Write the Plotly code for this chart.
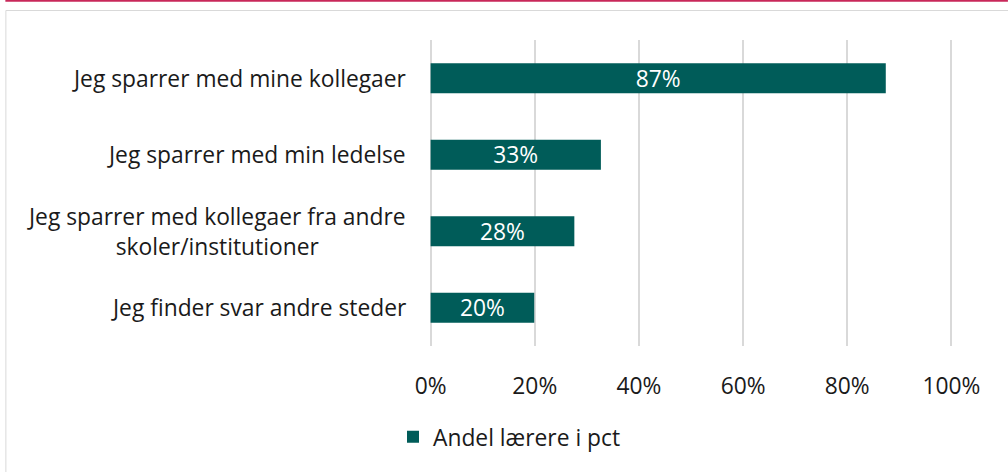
import plotly.graph_objects as go

categories = [
    "Jeg sparrer med mine kollegaer",
    "Jeg sparrer med min ledelse",
    "Jeg sparrer med kollegaer fra andre<br>skoler/institutioner",
    "Jeg finder svar andre steder",
]
values = [0.874, 0.327, 0.276, 0.199]
value_labels = ["87%", "33%", "28%", "20%"]
series_name = "Andel lærere i pct"
tick_vals = [0, 0.2, 0.4, 0.6, 0.8, 1.0]
tick_text = ["0%", "20%", "40%", "60%", "80%", "100%"]

W, H = 1008, 472
X0, X100 = 431, 951.5
E = 0.005
L = X0 - E * (X100 - X0)
R = X100 + E * (X100 - X0)
T, B = 40, 346
FONT = "Open Sans"
FS = 22.8
BAR = "#005C59"
TXT = "#1a1a1a"

def px(x):
    return (x - L) / (R - L)

def py(y):
    return (B - y) / (B - T)

fig = go.Figure()
fig.add_trace(go.Bar(
    y=categories, x=values, orientation="h", name=series_name,
    marker=dict(color=BAR, line=dict(width=0)),
    text=value_labels, textposition="inside", insidetextanchor="middle",
    constraintext="none",
    textfont=dict(color="white", size=FS, family=FONT),
    width=0.395, showlegend=True, hoverinfo="skip",
))

annotations = []
for c in categories:
    annotations.append(dict(
        x=px(X0), xref="paper", y=c, yref="y", text=c, showarrow=False,
        xanchor="right", yanchor="middle", align="center", xshift=-23,
        font=dict(size=FS, family=FONT, color=TXT),
    ))

shapes = [
    dict(type="rect", xref="paper", yref="paper",
         x0=px(6.5), x1=px(1020), y0=py(10.5), y1=py(490),
         line=dict(color="#D9D9D9", width=1), fillcolor="rgba(0,0,0,0)", layer="below"),
    dict(type="line", xref="paper", yref="paper",
         x0=px(6), x1=px(1008), y0=py(0.8), y1=py(0.8),
         line=dict(color="#C8285A", width=2)),
]

fig.update_layout(
    width=W, height=H,
    margin=dict(l=L, r=W - R, t=T, b=H - B, pad=0),
    paper_bgcolor="white", plot_bgcolor="white",
    font=dict(family=FONT, size=FS, color=TXT),
    xaxis=dict(range=[-E, 1 + E], tickvals=tick_vals, ticktext=tick_text,
               showgrid=True, gridcolor="#D9D9D9", gridwidth=1.5,
               zeroline=False, showline=False, ticks="",
               ticklabelstandoff=24, fixedrange=True,
               tickfont=dict(size=FS, family=FONT, color=TXT)),
    yaxis=dict(autorange="reversed", showticklabels=False, showgrid=False,
               zeroline=False, showline=False, ticks="", fixedrange=True),
    showlegend=True,
    legend=dict(orientation="h", xref="container", yref="container",
                x=393 / W, y=1 - 437 / H, xanchor="left", yanchor="middle",
                font=dict(size=FS, family=FONT, color=TXT),
                bgcolor="rgba(0,0,0,0)"),
    annotations=annotations, shapes=shapes,
    bargap=0.6,
)

fig.write_html(
    "out.html",
    config={"displayModeBar": False},
    post_script="document.body.style.margin='0';document.body.style.padding='0';",
)
